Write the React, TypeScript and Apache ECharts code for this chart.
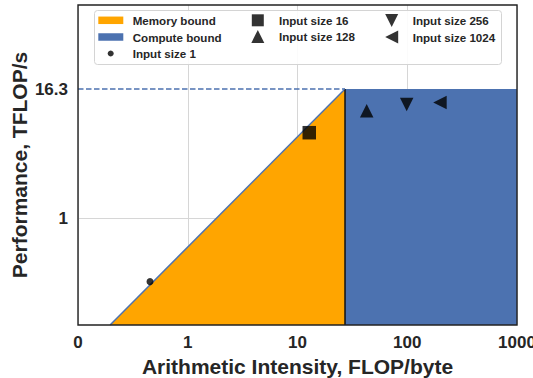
import React, { useEffect, useRef } from "react";
import * as echarts from "echarts";

// ---- data ----
const xRange = [0.1, 1000]; // Arithmetic intensity, FLOP/byte (log axis)
const yRange = [0.1, 100]; // Performance, TFLOP/s (log axis)
const xTickLabels = ["0", "1", "10", "100", "1000"];
const yTickLabels = ["1"];
const peakPerformance = 16.3;
const ridgeIntensity = 27.1;
const memoryRoofX = [0.196, ridgeIntensity];
const memoryRoofY = [0.1, peakPerformance];
const computeRoofX = [ridgeIntensity, 1000];
const yGridValue = 1;

const pointNames = ["Input size 1", "Input size 16", "Input size 128", "Input size 256", "Input size 1024"];
const pointIntensity = [0.453, 12.8, 42.7, 98.8, 198.6];
const pointPerformance = [0.255, 6.35, 10.2, 11.7, 12.2];

// ---- styles ----
const FONT = "'Liberation Sans', Arial, sans-serif";
const TEXT = "#262626";
const ORANGE = "#FFA500";
const BLUE = "#4C72B0";
const DOWN_TRI = "path://M0,0L2,0L1,2Z";
const LEFT_TRI = "path://M2,0L2,2L0,1Z";
const pointSymbols = ["circle", "rect", "triangle", DOWN_TRI, LEFT_TRI];
const pointSizes = [7, 13.5, 13.5, 13.5, 13.5];

const legendLayout = [
  { name: "Memory bound", icon: "rect", cx: 110.8, cy: 20.3, w: 25, h: 7.5, tx: 132.7, color: ORANGE },
  { name: "Compute bound", icon: "rect", cx: 110.8, cy: 37, w: 25, h: 7.5, tx: 132.7, color: BLUE },
  { name: "Input size 1", icon: "circle", cx: 110.7, cy: 53.5, w: 6, h: 6, tx: 132.7, color: "#000" },
  { name: "Input size 16", icon: "rect", cx: 257.8, cy: 20.3, w: 12, h: 12, tx: 279, color: "#000" },
  { name: "Input size 128", icon: "triangle", cx: 257.8, cy: 36.5, w: 13, h: 13, tx: 279, color: "#000" },
  { name: "Input size 256", icon: DOWN_TRI, cx: 391.7, cy: 20.5, w: 13, h: 13, tx: 412.7, color: "#000" },
  { name: "Input size 1024", icon: LEFT_TRI, cx: 391.7, cy: 37, w: 13, h: 13, tx: 412.7, color: "#000" },
];

export default function App() {
  const ref = useRef<HTMLDivElement>(null);

  useEffect(() => {
    if (!ref.current) return;
    const chart = echarts.init(ref.current, null, { renderer: "svg" });

    const legends = legendLayout.map((l) => {
      const left = l.cx - l.w / 2;
      return {
        data: [{ name: l.name, icon: l.icon }],
        left,
        top: l.cy - 7,
        orient: "horizontal",
        itemWidth: l.w,
        itemHeight: l.h,
        itemGap: 0,
        padding: 0,
        selectedMode: false,
        z: 20,
        itemStyle: { color: l.color, borderWidth: 0 },
        textStyle: {
          fontFamily: FONT,
          fontWeight: "bold",
          fontSize: 11.6,
          color: TEXT,
          lineHeight: 14,
          padding: [0, 0, 0, Math.max(0, l.tx - (left + l.w + 5))],
        },
      };
    });

    const scatterSeries = pointNames.map((name, i) => ({
      name,
      type: "scatter",
      data: [[pointIntensity[i], pointPerformance[i]]],
      symbol: pointSymbols[i],
      symbolSize: pointSizes[i],
      itemStyle: { color: "#000" },
      z: 8,
    }));

    const option: any = {
      animation: false,
      backgroundColor: "#fff",
      textStyle: { fontFamily: FONT },
      grid: {
        left: 78,
        top: 5,
        width: 439,
        height: 320,
        show: true,
        backgroundColor: "transparent",
        borderColor: "#222",
        borderWidth: 1.4,
        z: 10,
        containLabel: false,
        outerBoundsMode: "none",
      },
      legend: legends,
      graphic: [
        {
          type: "rect",
          z: 15,
          shape: { x: 94.5, y: 10.5, width: 407, height: 54, r: 3 },
          style: { fill: "rgba(255,255,255,0.9)", stroke: "#d4d4d4", lineWidth: 1 },
          silent: true,
        },
      ],
      xAxis: {
        type: "log",
        logBase: 10,
        min: xRange[0],
        max: xRange[1],
        name: "Arithmetic Intensity, FLOP/byte",
        nameLocation: "middle",
        nameGap: 25,
        nameTextStyle: { fontFamily: FONT, fontWeight: "bold", fontSize: 21, color: TEXT },
        axisLine: { show: false },
        axisTick: { show: false },
        axisLabel: {
          margin: 9,
          fontFamily: FONT,
          fontWeight: "bold",
          fontSize: 17,
          color: TEXT,
          formatter: (v: number) => {
            const idx = Math.round(Math.log10(v) - Math.log10(xRange[0]));
            return xTickLabels[idx] ?? "";
          },
        },
        splitLine: { show: true, lineStyle: { color: "#d6d6d6", width: 1 } },
      },
      yAxis: {
        type: "log",
        logBase: 10,
        min: yRange[0],
        max: yRange[1],
        name: "Performance, TFLOP/s",
        nameLocation: "middle",
        nameGap: 48,
        nameTextStyle: { fontFamily: FONT, fontWeight: "bold", fontSize: 21, color: TEXT },
        axisLine: { show: false },
        axisTick: { show: false },
        axisLabel: {
          margin: 10,
          fontFamily: FONT,
          fontWeight: "bold",
          fontSize: 17,
          color: TEXT,
          formatter: (v: number) => {
            const s = String(Math.round(v * 1000) / 1000);
            return yTickLabels.includes(s) ? s : "";
          },
        },
        splitLine: { show: false },
      },
      series: [
        {
          name: "gridY",
          type: "line",
          data: [],
          silent: true,
          markLine: {
            silent: true,
            z: 1,
            symbol: ["none", "none"],
            label: { show: false },
            lineStyle: { color: "#d6d6d6", width: 1, type: "solid" },
            data: [{ yAxis: yGridValue }],
          },
        },
        {
          name: "Memory bound",
          type: "line",
          data: memoryRoofX.map((x, i) => [x, memoryRoofY[i]]),
          showSymbol: false,
          symbol: "none",
          z: 3,
          itemStyle: { color: ORANGE },
          lineStyle: { color: BLUE, width: 1.5 },
          areaStyle: { color: ORANGE, opacity: 1, origin: "start" },
        },
        {
          name: "Compute bound",
          type: "line",
          data: computeRoofX.map((x) => [x, peakPerformance]),
          showSymbol: false,
          symbol: "none",
          z: 3,
          itemStyle: { color: BLUE },
          lineStyle: { color: BLUE, width: 0 },
          areaStyle: { color: BLUE, opacity: 1, origin: "start" },
          markLine: {
            silent: true,
            z: 5,
            symbol: ["none", "none"],
            lineStyle: { color: BLUE, width: 1.6, type: [5.5, 2.5] },
            label: {
              show: true,
              position: "start",
              distance: 10,
              formatter: String(peakPerformance),
              fontFamily: FONT,
              fontWeight: "bold",
              fontSize: 17,
              color: TEXT,
            },
            data: [[{ coord: [xRange[0], peakPerformance] }, { coord: [ridgeIntensity, peakPerformance] }]],
          },
        },
        {
          name: "ridge",
          type: "line",
          data: [
            [ridgeIntensity, yRange[0]],
            [ridgeIntensity, peakPerformance],
          ],
          showSymbol: false,
          symbol: "none",
          z: 4,
          lineStyle: { color: "#111", width: 1.5 },
        },
        ...scatterSeries,
      ],
    };

    chart.setOption(option);
    return () => chart.dispose();
  }, []);

  return (
    <div
      ref={ref}
      style={{ position: "fixed", left: 0, top: 0, width: 533, height: 378 }}
    />
  );
}
